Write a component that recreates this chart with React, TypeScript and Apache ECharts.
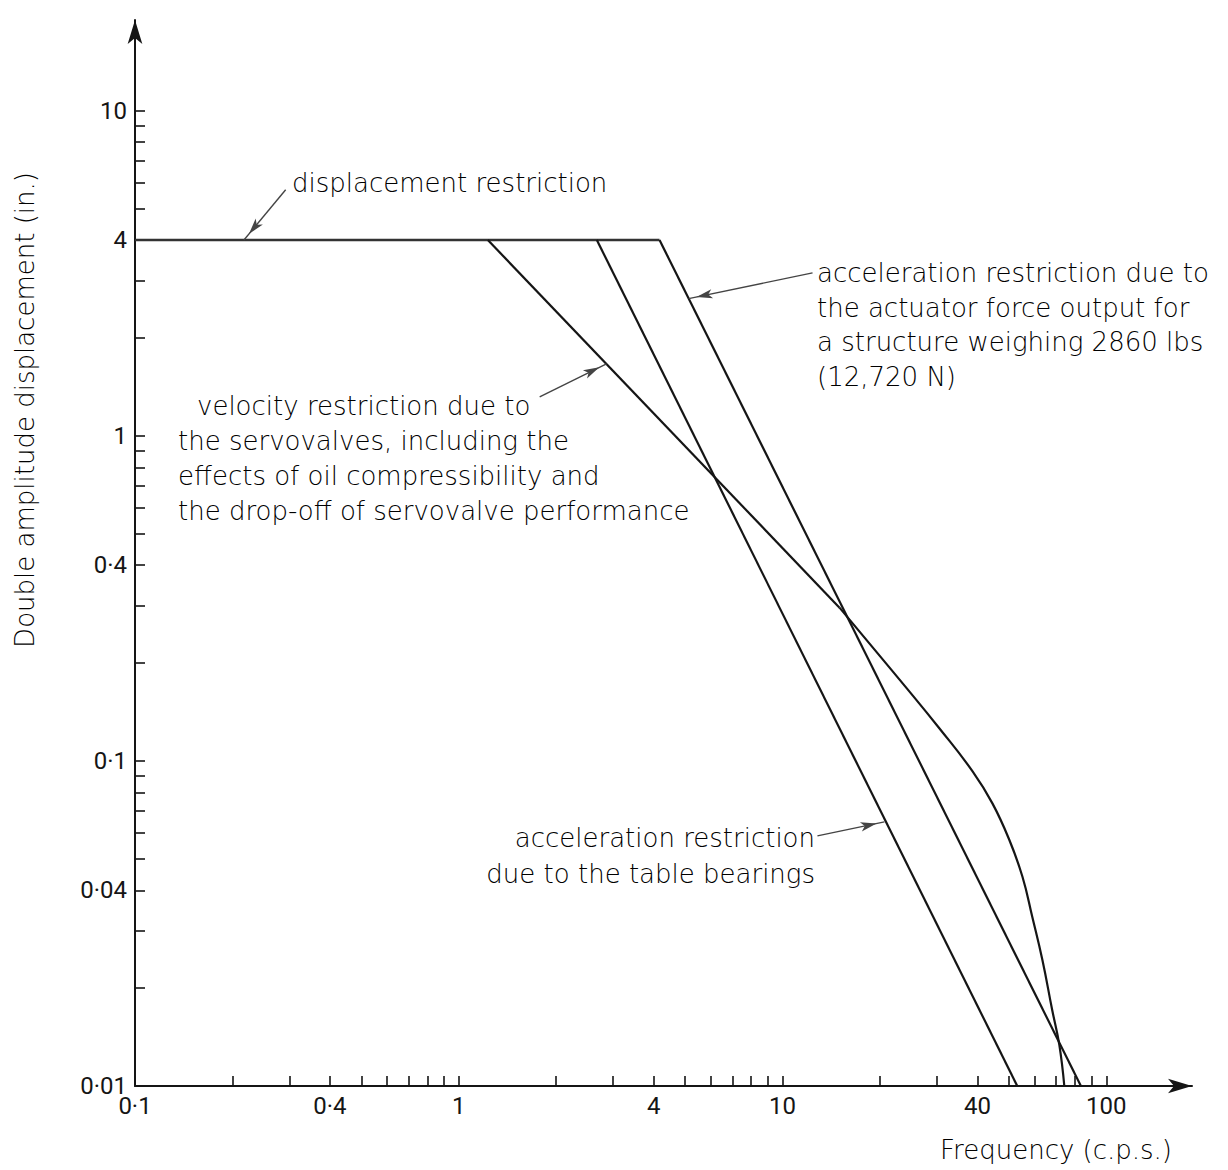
import React, { useEffect, useRef } from 'react';
import * as echarts from 'echarts';

// ---- axis ranges and ticks ----
const xRange = [0.1, 184];
const yRange = [0.01, 19];
const xTickValues = [0.1, 0.2, 0.3, 0.4, 0.5, 0.6, 0.7, 0.8, 0.9, 1, 2, 3, 4, 5, 6, 7, 8, 9, 10, 20, 30, 40, 50, 60, 70, 80, 90, 100];
const xLabelValues = [0.1, 0.4, 1, 4, 10, 40, 100];
const yTickValues = [0.01, 0.02, 0.03, 0.04, 0.05, 0.06, 0.07, 0.08, 0.09, 0.1, 0.2, 0.3, 0.4, 0.5, 0.6, 0.7, 0.8, 0.9, 1, 2, 3, 4, 5, 6, 7, 8, 9, 10];
const yLabelValues = [0.01, 0.04, 0.1, 0.4, 1, 4, 10];

// ---- performance limits (frequency c.p.s., double amplitude in.) ----
const displacementLimit = [[0.1, 4], [4.17, 4]];
const velocityLimit = [[1.23, 4], [15.0, 0.296]];
const velocityDropOff = [
  [15.0, 0.296], [24.1, 0.168], [30.5, 0.126], [38.6, 0.093], [44.5, 0.0740],
  [50.2, 0.0571], [55.1, 0.044], [59.1, 0.0331], [63.5, 0.0244], [68.1, 0.0171], [71.6, 0.0134], [74.2, 0.01],
];
const bearingLimit = [[2.67, 4], [53.1, 0.01]];
const actuatorLimit = [[4.17, 4], [83.5, 0.01]];

// ---- annotation pointers: [tail, tip] ----
const displacementPointer = [[0.292, 5.71], [0.217, 4]];
const actuatorPointer = [[12.38, 3.17], [5.13, 2.64]];
const velocityPointer = [[1.778, 1.318], [2.86, 1.665]];
const bearingPointer = [[12.82, 0.0588], [20.64, 0.0649]];

const displacementText = ['displacement restriction'];
const actuatorText = ['acceleration restriction due to', 'the actuator force output for', 'a structure weighing 2860 lbs', '(12,720 N)'];
const velocityText = ['velocity restriction due to', 'the servovalves, including the', 'effects of oil compressibility and', 'the drop-off of servovalve performance'];
const bearingText = ['acceleration restriction', 'due to the table bearings'];
const xName = 'Frequency (c.p.s.)';
const yName = 'Double amplitude displacement (in.)';

const INK = '#151515';
const fmt = (v: number) => String(v).replace('.', '\u00b7');
const numFont = { fontFamily: "'Liberation Sans Narrow', Roboto, sans-serif", fontSize: 24, color: INK };
const txt = { fontFamily: "'DejaVu Sans', sans-serif", fontSize: 26, fontWeight: 200 as any, fill: '#000' };

function pointer(p: number[][]) {
  return [
    { coord: p[0], symbol: 'none' },
    { coord: p[1], symbol: 'arrow', symbolSize: [7, 16], symbolOffset: [0, 8] },
  ];
}

function textLines(lines: string[], x: number | number[], y0: number, dy: number, align: string) {
  return lines.map((t, i) => ({
    type: 'text',
    x: Array.isArray(x) ? x[i] : x,
    y: y0 + i * dy,
    silent: true,
    style: { text: t, ...txt, textAlign: align, textVerticalAlign: 'middle' },
  }));
}

export default function App() {
  const ref = useRef<HTMLDivElement>(null);
  useEffect(() => {
    const chart = echarts.init(ref.current!, null, { renderer: 'svg' });
    const lineSeries = (name: string, data: number[][], extra: any = {}) => ({
      name,
      type: 'line',
      data,
      symbol: 'none',
      showSymbol: false,
      silent: true,
      smooth: false,
      lineStyle: { color: INK, width: 2.2, join: 'round' },
      z: 3,
      ...extra,
    });
    chart.setOption({
      animation: false,
      backgroundColor: '#ffffff',
      grid: { left: 135, right: 36, top: 20, bottom: 84, containLabel: false },
      xAxis: {
        type: 'log',
        logBase: 10,
        min: xRange[0],
        max: xRange[1],
        axisLine: { show: true, onZero: false, symbol: ['none', 'arrow'], symbolSize: [11, 24], lineStyle: { color: INK, width: 2 } },
        axisTick: { show: true, inside: true, length: 10, customValues: xTickValues, lineStyle: { color: INK, width: 1.6 } },
        axisLabel: { show: true, customValues: xLabelValues, formatter: fmt, margin: 8, ...numFont },
        splitLine: { show: false },
        minorTick: { show: false },
        minorSplitLine: { show: false },
      },
      yAxis: {
        type: 'log',
        logBase: 10,
        min: yRange[0],
        max: yRange[1],
        axisLine: { show: true, onZero: false, symbol: ['none', 'arrow'], symbolSize: [11, 24], lineStyle: { color: INK, width: 2 } },
        axisTick: { show: true, inside: true, length: 10, customValues: yTickValues, lineStyle: { color: INK, width: 1.6 } },
        axisLabel: { show: true, customValues: yLabelValues, formatter: fmt, margin: 8, ...numFont },
        splitLine: { show: false },
        minorTick: { show: false },
        minorSplitLine: { show: false },
      },
      series: [
        lineSeries('displacement restriction', displacementLimit, {
          lineStyle: { color: '#333', width: 2.6 },
          markLine: {
            silent: true,
            animation: false,
            label: { show: false },
            emphasis: { disabled: true },
            lineStyle: { color: '#444', width: 1.4, type: 'solid' },
            data: [pointer(displacementPointer), pointer(actuatorPointer), pointer(velocityPointer), pointer(bearingPointer)],
          },
        }),
        lineSeries('velocity restriction', velocityLimit),
        lineSeries('velocity restriction (servovalve drop-off)', velocityDropOff, { smooth: 0.45 }),
        lineSeries('table bearings', bearingLimit),
        lineSeries('actuator force', actuatorLimit),
      ],
      graphic: [
        ...textLines(displacementText, 292, 183, 35, 'left'),
        ...textLines(actuatorText, 817, 273, 34.5, 'left'),
        ...textLines(velocityText, [197, 178, 178, 178], 406, 35, 'left'),
        ...textLines(bearingText, 815, 838, 36, 'right'),
        { type: 'text', x: 1056, y: 1150, silent: true, style: { text: xName, ...txt, textAlign: 'center', textVerticalAlign: 'middle' } },
        { type: 'text', x: 25, y: 410, rotation: Math.PI / 2, silent: true, style: { text: yName, ...txt, textAlign: 'center', textVerticalAlign: 'middle' } },
      ],
    });
    return () => chart.dispose();
  }, []);
  return <div ref={ref} style={{ position: 'fixed', left: 0, top: 0, width: 1228, height: 1170, background: '#fff' }} />;
}
